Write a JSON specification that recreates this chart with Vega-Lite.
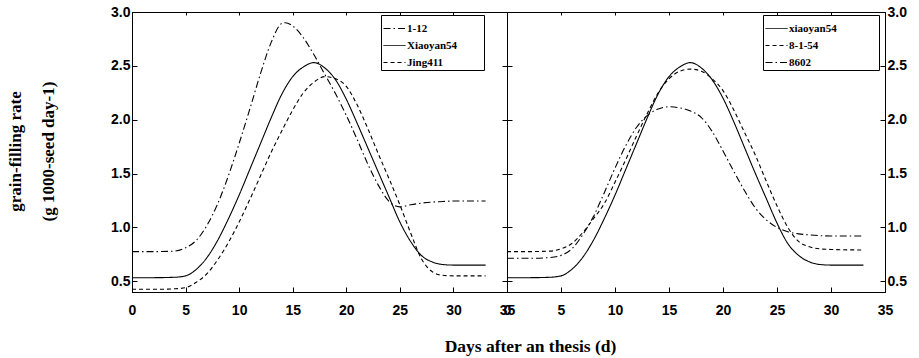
{
  "$schema": "https://vega.github.io/schema/vega-lite/v6.json",
  "autosize": {"type": "pad"},
  "padding": {"left": 5, "top": 4, "right": 5, "bottom": 4},
  "background": "white",
  "bounds": "flush",
  "config": {
    "view": {"stroke": "black", "strokeWidth": 1},
    "axis": {
      "grid": false,
      "domainColor": "black",
      "tickColor": "black",
      "labelColor": "black",
      "labelFont": "Liberation Sans",
      "labelFontWeight": "bold",
      "labelFontSize": 14,
      "titleFont": "Liberation Serif",
      "titleFontWeight": "bold",
      "titleFontSize": 17,
      "titleColor": "black"
    },
    "legend": {
      "orient": "none",
      "title": null,
      "symbolType": "stroke",
      "symbolStrokeColor": "black",
      "symbolStrokeWidth": 1,
      "symbolSize": 484,
      "labelFont": "Liberation Serif",
      "labelFontWeight": "bold",
      "labelFontSize": 11,
      "labelColor": "black",
      "labelOffset": 1,
      "padding": 2,
      "rowPadding": -4.5,
      "strokeColor": "black",
      "fillColor": "white"
    }
  },
  "datasets": {
    "L": [
      {"series": "1-12", "x": 0, "y": 0.775}, {"series": "1-12", "x": 2, "y": 0.775}, {"series": "1-12", "x": 4, "y": 0.78}, {"series": "1-12", "x": 5, "y": 0.81}, {"series": "1-12", "x": 6, "y": 0.88}, {"series": "1-12", "x": 7, "y": 1.02}, {"series": "1-12", "x": 8, "y": 1.22}, {"series": "1-12", "x": 9, "y": 1.48}, {"series": "1-12", "x": 10, "y": 1.78}, {"series": "1-12", "x": 11, "y": 2.10}, {"series": "1-12", "x": 12, "y": 2.43}, {"series": "1-12", "x": 13, "y": 2.72}, {"series": "1-12", "x": 14, "y": 2.895}, {"series": "1-12", "x": 14.3, "y": 2.90}, {"series": "1-12", "x": 15, "y": 2.87}, {"series": "1-12", "x": 16, "y": 2.76}, {"series": "1-12", "x": 17, "y": 2.60}, {"series": "1-12", "x": 18, "y": 2.42}, {"series": "1-12", "x": 19, "y": 2.24}, {"series": "1-12", "x": 20, "y": 2.04}, {"series": "1-12", "x": 21, "y": 1.82}, {"series": "1-12", "x": 22, "y": 1.59}, {"series": "1-12", "x": 23, "y": 1.39}, {"series": "1-12", "x": 24, "y": 1.24}, {"series": "1-12", "x": 25, "y": 1.19}, {"series": "1-12", "x": 26, "y": 1.21}, {"series": "1-12", "x": 27, "y": 1.225}, {"series": "1-12", "x": 28, "y": 1.235}, {"series": "1-12", "x": 29, "y": 1.24}, {"series": "1-12", "x": 30, "y": 1.245}, {"series": "1-12", "x": 33, "y": 1.245},
      {"series": "Xiaoyan54", "x": 0, "y": 0.533}, {"series": "Xiaoyan54", "x": 2, "y": 0.533}, {"series": "Xiaoyan54", "x": 4, "y": 0.537}, {"series": "Xiaoyan54", "x": 5, "y": 0.55}, {"series": "Xiaoyan54", "x": 6, "y": 0.61}, {"series": "Xiaoyan54", "x": 7, "y": 0.72}, {"series": "Xiaoyan54", "x": 8, "y": 0.88}, {"series": "Xiaoyan54", "x": 9, "y": 1.08}, {"series": "Xiaoyan54", "x": 10, "y": 1.30}, {"series": "Xiaoyan54", "x": 11, "y": 1.54}, {"series": "Xiaoyan54", "x": 12, "y": 1.78}, {"series": "Xiaoyan54", "x": 13, "y": 2.02}, {"series": "Xiaoyan54", "x": 14, "y": 2.24}, {"series": "Xiaoyan54", "x": 15, "y": 2.40}, {"series": "Xiaoyan54", "x": 16, "y": 2.49}, {"series": "Xiaoyan54", "x": 17, "y": 2.53}, {"series": "Xiaoyan54", "x": 18, "y": 2.48}, {"series": "Xiaoyan54", "x": 19, "y": 2.37}, {"series": "Xiaoyan54", "x": 20, "y": 2.19}, {"series": "Xiaoyan54", "x": 21, "y": 1.97}, {"series": "Xiaoyan54", "x": 22, "y": 1.74}, {"series": "Xiaoyan54", "x": 23, "y": 1.51}, {"series": "Xiaoyan54", "x": 24, "y": 1.28}, {"series": "Xiaoyan54", "x": 25, "y": 1.05}, {"series": "Xiaoyan54", "x": 26, "y": 0.87}, {"series": "Xiaoyan54", "x": 27, "y": 0.74}, {"series": "Xiaoyan54", "x": 28, "y": 0.68}, {"series": "Xiaoyan54", "x": 29, "y": 0.655}, {"series": "Xiaoyan54", "x": 30, "y": 0.65}, {"series": "Xiaoyan54", "x": 33, "y": 0.65},
      {"series": "Jing411", "x": 0, "y": 0.425}, {"series": "Jing411", "x": 2, "y": 0.425}, {"series": "Jing411", "x": 4, "y": 0.43}, {"series": "Jing411", "x": 5, "y": 0.44}, {"series": "Jing411", "x": 6, "y": 0.49}, {"series": "Jing411", "x": 7, "y": 0.57}, {"series": "Jing411", "x": 8, "y": 0.70}, {"series": "Jing411", "x": 9, "y": 0.86}, {"series": "Jing411", "x": 10, "y": 1.05}, {"series": "Jing411", "x": 11, "y": 1.26}, {"series": "Jing411", "x": 12, "y": 1.48}, {"series": "Jing411", "x": 13, "y": 1.70}, {"series": "Jing411", "x": 14, "y": 1.90}, {"series": "Jing411", "x": 15, "y": 2.09}, {"series": "Jing411", "x": 16, "y": 2.25}, {"series": "Jing411", "x": 17, "y": 2.35}, {"series": "Jing411", "x": 18, "y": 2.40}, {"series": "Jing411", "x": 19, "y": 2.38}, {"series": "Jing411", "x": 20, "y": 2.31}, {"series": "Jing411", "x": 21, "y": 2.14}, {"series": "Jing411", "x": 22, "y": 1.92}, {"series": "Jing411", "x": 23, "y": 1.68}, {"series": "Jing411", "x": 24, "y": 1.45}, {"series": "Jing411", "x": 25, "y": 1.21}, {"series": "Jing411", "x": 26, "y": 0.95}, {"series": "Jing411", "x": 27, "y": 0.71}, {"series": "Jing411", "x": 28, "y": 0.59}, {"series": "Jing411", "x": 29, "y": 0.555}, {"series": "Jing411", "x": 30, "y": 0.55}, {"series": "Jing411", "x": 33, "y": 0.55}
    ],
    "R": [
      {"series": "xiaoyan54", "x": 0, "y": 0.533}, {"series": "xiaoyan54", "x": 2, "y": 0.533}, {"series": "xiaoyan54", "x": 4, "y": 0.537}, {"series": "xiaoyan54", "x": 5, "y": 0.55}, {"series": "xiaoyan54", "x": 6, "y": 0.61}, {"series": "xiaoyan54", "x": 7, "y": 0.72}, {"series": "xiaoyan54", "x": 8, "y": 0.88}, {"series": "xiaoyan54", "x": 9, "y": 1.08}, {"series": "xiaoyan54", "x": 10, "y": 1.30}, {"series": "xiaoyan54", "x": 11, "y": 1.54}, {"series": "xiaoyan54", "x": 12, "y": 1.78}, {"series": "xiaoyan54", "x": 13, "y": 2.02}, {"series": "xiaoyan54", "x": 14, "y": 2.24}, {"series": "xiaoyan54", "x": 15, "y": 2.40}, {"series": "xiaoyan54", "x": 16, "y": 2.49}, {"series": "xiaoyan54", "x": 17, "y": 2.53}, {"series": "xiaoyan54", "x": 18, "y": 2.48}, {"series": "xiaoyan54", "x": 19, "y": 2.37}, {"series": "xiaoyan54", "x": 20, "y": 2.20}, {"series": "xiaoyan54", "x": 21, "y": 1.98}, {"series": "xiaoyan54", "x": 22, "y": 1.74}, {"series": "xiaoyan54", "x": 23, "y": 1.50}, {"series": "xiaoyan54", "x": 24, "y": 1.27}, {"series": "xiaoyan54", "x": 25, "y": 1.04}, {"series": "xiaoyan54", "x": 26, "y": 0.85}, {"series": "xiaoyan54", "x": 27, "y": 0.74}, {"series": "xiaoyan54", "x": 28, "y": 0.68}, {"series": "xiaoyan54", "x": 29, "y": 0.655}, {"series": "xiaoyan54", "x": 30, "y": 0.65}, {"series": "xiaoyan54", "x": 33, "y": 0.65},
      {"series": "8-1-54", "x": 0, "y": 0.775}, {"series": "8-1-54", "x": 2, "y": 0.775}, {"series": "8-1-54", "x": 4, "y": 0.78}, {"series": "8-1-54", "x": 5, "y": 0.80}, {"series": "8-1-54", "x": 6, "y": 0.85}, {"series": "8-1-54", "x": 7, "y": 0.95}, {"series": "8-1-54", "x": 8, "y": 1.08}, {"series": "8-1-54", "x": 9, "y": 1.22}, {"series": "8-1-54", "x": 10, "y": 1.42}, {"series": "8-1-54", "x": 11, "y": 1.63}, {"series": "8-1-54", "x": 12, "y": 1.85}, {"series": "8-1-54", "x": 13, "y": 2.06}, {"series": "8-1-54", "x": 14, "y": 2.25}, {"series": "8-1-54", "x": 15, "y": 2.38}, {"series": "8-1-54", "x": 16, "y": 2.45}, {"series": "8-1-54", "x": 17, "y": 2.47}, {"series": "8-1-54", "x": 18, "y": 2.45}, {"series": "8-1-54", "x": 19, "y": 2.38}, {"series": "8-1-54", "x": 20, "y": 2.27}, {"series": "8-1-54", "x": 21, "y": 2.09}, {"series": "8-1-54", "x": 22, "y": 1.88}, {"series": "8-1-54", "x": 23, "y": 1.67}, {"series": "8-1-54", "x": 24, "y": 1.43}, {"series": "8-1-54", "x": 25, "y": 1.20}, {"series": "8-1-54", "x": 26, "y": 1.00}, {"series": "8-1-54", "x": 27, "y": 0.87}, {"series": "8-1-54", "x": 28, "y": 0.82}, {"series": "8-1-54", "x": 29, "y": 0.80}, {"series": "8-1-54", "x": 30, "y": 0.795}, {"series": "8-1-54", "x": 33, "y": 0.79},
      {"series": "8602", "x": 0, "y": 0.713}, {"series": "8602", "x": 2, "y": 0.713}, {"series": "8602", "x": 4, "y": 0.72}, {"series": "8602", "x": 5, "y": 0.74}, {"series": "8602", "x": 6, "y": 0.80}, {"series": "8602", "x": 7, "y": 0.93}, {"series": "8602", "x": 8, "y": 1.10}, {"series": "8602", "x": 9, "y": 1.32}, {"series": "8602", "x": 10, "y": 1.55}, {"series": "8602", "x": 11, "y": 1.76}, {"series": "8602", "x": 12, "y": 1.93}, {"series": "8602", "x": 13, "y": 2.04}, {"series": "8602", "x": 14, "y": 2.10}, {"series": "8602", "x": 15, "y": 2.12}, {"series": "8602", "x": 16, "y": 2.11}, {"series": "8602", "x": 17, "y": 2.08}, {"series": "8602", "x": 18, "y": 2.02}, {"series": "8602", "x": 19, "y": 1.89}, {"series": "8602", "x": 20, "y": 1.71}, {"series": "8602", "x": 21, "y": 1.52}, {"series": "8602", "x": 22, "y": 1.34}, {"series": "8602", "x": 23, "y": 1.18}, {"series": "8602", "x": 24, "y": 1.07}, {"series": "8602", "x": 25, "y": 1.00}, {"series": "8602", "x": 26, "y": 0.96}, {"series": "8602", "x": 27, "y": 0.94}, {"series": "8602", "x": 28, "y": 0.93}, {"series": "8602", "x": 30, "y": 0.92}, {"series": "8602", "x": 33, "y": 0.92}
    ]
  },
  "spacing": 0,
  "resolve": {"scale": {"strokeDash": "independent"}, "legend": {"strokeDash": "independent"}},
  "hconcat": [
    {
      "width": 375,
      "height": 280,
      "data": {"name": "L"},
      "layer": [
        {
          "mark": {"type": "line", "interpolate": "monotone", "color": "black", "strokeWidth": 1.1},
          "encoding": {
            "x": {"field": "x", "type": "quantitative", "scale": {"domain": [0, 35], "nice": false},
              "axis": {"orient": "bottom", "values": [0, 5, 10, 15, 20, 25, 30, 35], "tickSize": -5, "labelPadding": 16, "labelFlush": false,
                "title": "Days after an thesis (d)", "titleFontSize": 17.5, "titleX": 398, "titleY": 54, "titleAlign": "center", "titleBaseline": "middle"}},
            "y": {"field": "y", "type": "quantitative", "scale": {"domain": [0.4, 3.0], "nice": false, "zero": false},
              "axis": {"orient": "left", "values": [0.5, 1, 1.5, 2, 2.5, 3], "format": ".1f", "tickSize": -5, "labelPadding": 7,
                "title": ["grain-filling rate", "(g 1000-seed day-1)"], "titleAngle": -90, "titleX": -117, "titleY": 139, "titleAlign": "center", "titleBaseline": "middle", "titleLineHeight": 33}},
            "strokeDash": {"field": "series", "type": "nominal",
              "scale": {"domain": ["1-12", "Xiaoyan54", "Jing411"], "range": [[7, 3, 1.5, 3], [1, 0], [4, 3]]},
              "legend": {"legendX": 249, "legendY": 3, "labelExpr": "datum.label + '\u2800\u2800\u2800'"}}
          }
        },
        {
          "mark": {"type": "line", "opacity": 0},
          "encoding": {
            "x": {"field": "x", "type": "quantitative", "axis": {"orient": "top", "values": [0, 5, 10, 15, 20, 25, 30, 35], "tickSize": -3, "labels": false, "title": null}},
            "y": {"field": "y", "type": "quantitative", "axis": {"orient": "right", "values": [0.5, 1, 1.5, 2, 2.5, 3], "tickSize": -5, "labels": false, "title": null}},
            "detail": {"field": "series"}
          }
        }
      ],
      "resolve": {"axis": {"x": "independent", "y": "independent"}}
    },
    {
      "width": 378,
      "height": 280,
      "data": {"name": "R"},
      "layer": [
        {
          "mark": {"type": "line", "interpolate": "monotone", "color": "black", "strokeWidth": 1.1},
          "encoding": {
            "x": {"field": "x", "type": "quantitative", "scale": {"domain": [0, 35], "nice": false},
              "axis": {"orient": "bottom", "values": [0, 5, 10, 15, 20, 25, 30, 35], "tickSize": -5, "labelPadding": 16, "labelFlush": false, "title": null}},
            "y": {"field": "y", "type": "quantitative", "scale": {"domain": [0.4, 3.0], "nice": false, "zero": false},
              "axis": {"orient": "right", "values": [0.5, 1, 1.5, 2, 2.5, 3], "format": ".1f", "tickSize": -5, "labelPadding": 7, "title": null}},
            "strokeDash": {"field": "series", "type": "nominal",
              "scale": {"domain": ["xiaoyan54", "8-1-54", "8602"], "range": [[1, 0], [4, 3], [7, 3, 1.5, 3]]},
              "legend": {"legendX": 256, "legendY": 3, "labelExpr": "datum.label + '\u2800\u2800\u2800\u2800\u2800'"}}
          }
        },
        {
          "mark": {"type": "line", "opacity": 0},
          "encoding": {
            "x": {"field": "x", "type": "quantitative", "axis": {"orient": "top", "values": [0, 5, 10, 15, 20, 25, 30, 35], "tickSize": -3, "labels": false, "title": null}},
            "y": {"field": "y", "type": "quantitative", "axis": {"orient": "left", "values": [0.5, 1, 1.5, 2, 2.5, 3], "tickSize": -5, "labels": false, "title": null}},
            "detail": {"field": "series"}
          }
        }
      ],
      "resolve": {"axis": {"x": "independent", "y": "independent"}}
    }
  ]
}
